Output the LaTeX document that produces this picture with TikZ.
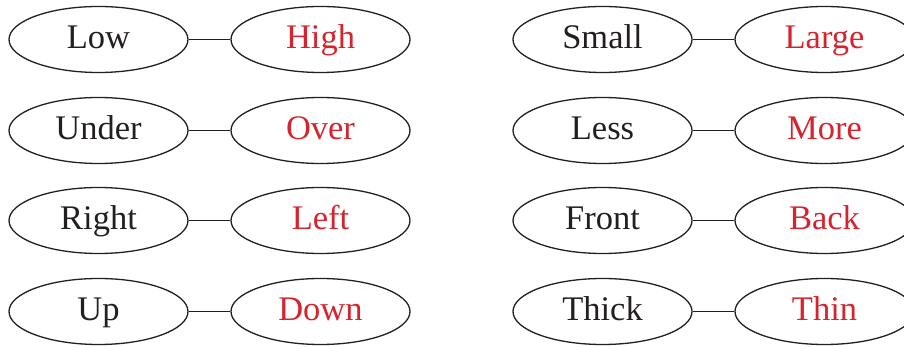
\documentclass[tikz,border=0pt]{standalone}
\usepackage{fontspec}
\setmainfont{Liberation Serif}
\usetikzlibrary{shapes.geometric}
\definecolor{inkred}{RGB}{214,36,46}
\definecolor{inkblack}{RGB}{35,31,32}
\begin{document}
\begin{tikzpicture}[x=1pt,y=-1pt,
  oval/.style={ellipse, draw=inkblack, line width=1.3pt, minimum width=179pt, minimum height=66pt,
    inner sep=0pt, text height=23pt, text depth=5pt, font=\fontsize{34.5}{40}\selectfont},
  lhs/.style={oval, text=inkblack},
  rhs/.style={oval, text=inkred},
  link/.style={draw=inkblack, line width=1.3pt}]
\useasboundingbox (0,0) rectangle (904,347);
\begin{scope}
\clip (0,0) rectangle (904,347);
% left column
\node[lhs] (a1) at (98.5,39.5) {Low};
\node[rhs] (b1) at (320.5,39.5) {High};
\node[lhs] (a2) at (98.5,130.5) {Under};
\node[rhs] (b2) at (320.5,130.5) {Over};
\node[lhs] (a3) at (98.5,220.5) {Right};
\node[rhs] (b3) at (320.5,220.5) {Left};
\node[lhs] (a4) at (98.5,311.5) {Up};
\node[rhs] (b4) at (320.5,311.5) {Down};
% right column
\node[lhs] (c1) at (602.5,39.5) {Small};
\node[rhs] (d1) at (824.5,39.5) {Large};
\node[lhs] (c2) at (602.5,130.5) {Less};
\node[rhs] (d2) at (824.5,130.5) {More};
\node[lhs] (c3) at (602.5,220.5) {Front};
\node[rhs] (d3) at (824.5,220.5) {Back};
\node[lhs] (c4) at (602.5,311.5) {Thick};
\node[rhs] (d4) at (824.5,311.5) {Thin};
\foreach \i in {1,2,3,4}{
  \draw[link] (a\i.east) -- (b\i.west);
  \draw[link] (c\i.east) -- (d\i.west);
}
\end{scope}
\end{tikzpicture}
\end{document}
